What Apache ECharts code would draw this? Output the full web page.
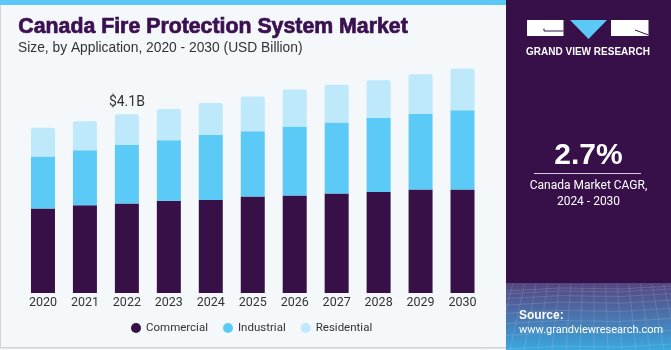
<!DOCTYPE html>
<html>
<head>
<meta charset="utf-8">
<script src="https://cdn.jsdelivr.net/npm/echarts@6/dist/echarts.min.js"></script>
<style>
html,body{margin:0;padding:0;background:#F4F8FB;}
#c{width:671px;height:350px;}
</style>
</head>
<body>
<div id="c"></div>
<script>
const years = ['2020','2021','2022','2023','2024','2025','2026','2027','2028','2029','2030'];
const commercial = [1.94, 2.02, 2.06, 2.12, 2.14, 2.22, 2.24, 2.29, 2.32, 2.38, 2.38];
const industrial = [1.20, 1.26, 1.35, 1.39, 1.49, 1.50, 1.59, 1.63, 1.71, 1.74, 1.82];
const residential = [0.66, 0.67, 0.70, 0.72, 0.74, 0.80, 0.85, 0.87, 0.86, 0.91, 0.96];
const seriesNames = ['Commercial', 'Industrial', 'Residential'];
const labelIndex = 2;
const titleText = 'Canada Fire Protection System Market';
const subtitleText = 'Size, by Application, 2020 - 2030 (USD Billion)';
const cagrText = '2.7%';
const cagrLine1 = 'Canada Market CAGR,';
const cagrLine2 = '2024 - 2030';

const totals = years.map((_, i) => commercial[i] + industrial[i] + residential[i]);

const chart = echarts.init(document.getElementById('c'), null, {renderer: 'canvas'});

// decorative mesh in source panel
const mesh = [];
for (let k = 0; k < 9; k++) {
  const y = 288 + k * k * 0.9 + k * 2;
  mesh.push({type: 'polyline', silent: true, shape: {points: [[506, y + 3], [560, y], [620, y + 1], [671, y - 2]]},
    style: {stroke: 'rgba(255,255,255,0.13)', lineWidth: 1, fill: null}});
}
for (let k = 0; k < 16; k++) {
  const x = 506 + k * 11;
  mesh.push({type: 'line', silent: true, shape: {x1: x + (k - 8) * 0.6, y1: 284, x2: x + (k - 8) * 3, y2: 350},
    style: {stroke: 'rgba(255,255,255,0.12)', lineWidth: 1}});
}

const option = {
  backgroundColor: '#F4F8FB',
  animation: false,
  textStyle: {fontFamily: 'Roboto, sans-serif'},
  grid: {left: 22, width: 461.5, top: 53.75, bottom: 57, containLabel: false},
  xAxis: {
    type: 'category', data: years,
    axisLine: {show: false}, axisTick: {show: false},
    axisLabel: {color: '#333333', fontSize: 12.5, margin: 3, interval: 0, fontFamily: 'Roboto, sans-serif'}
  },
  yAxis: {type: 'value', min: 0, max: 5.5, show: false, splitLine: {show: false}},
  legend: {
    data: seriesNames, left: 126, top: 317, icon: 'circle', itemWidth: 10, itemHeight: 10,
    itemGap: 15, textStyle: {color: '#333333', fontSize: 11.5, fontFamily: 'Roboto, sans-serif'}
  },
  series: [
    {name: seriesNames[0], type: 'bar', stack: 'a', data: commercial, barWidth: 24,
      itemStyle: {color: '#371047'}},
    {name: seriesNames[1], type: 'bar', stack: 'a', data: industrial, barWidth: 24,
      itemStyle: {color: '#5BCAF6'}},
    {name: seriesNames[2], type: 'bar', stack: 'a', data: residential, barWidth: 24,
      itemStyle: {color: '#BDE9FA', borderRadius: [2, 2, 0, 0]},
      label: {show: true, position: 'top', distance: 5, color: '#333333', fontSize: 14,
        fontFamily: 'Roboto, sans-serif',
        formatter: p => p.dataIndex === labelIndex ? '$' + totals[p.dataIndex].toFixed(1) + 'B' : ''}}
  ],
  graphic: [
    {type: 'rect', shape: {x: 0, y: 0, width: 506, height: 5}, style: {fill: '#5BC8F5'}, silent: true},
    {type: 'rect', shape: {x: 0, y: 5, width: 1, height: 343}, style: {fill: '#D0D4D8'}, silent: true},
    {type: 'rect', shape: {x: 0, y: 347, width: 506, height: 1.5}, style: {fill: '#D0D4D8'}, silent: true},
    {type: 'text', left: 18, top: 16.5, silent: true,
      style: {text: titleText, fill: '#3B1050', stroke: '#3B1050', lineWidth: 0.7,
        font: 'bold 21.3px "Liberation Sans", Arial, sans-serif'}},
    {type: 'text', left: 18, top: 41.5, silent: true,
      style: {text: subtitleText, fill: '#333333', font: '13.8px "Liberation Sans", Arial, sans-serif'}},
    // right panel
    {type: 'rect', shape: {x: 506, y: 0, width: 165, height: 350}, style: {fill: '#37104A'}, silent: true},
    {type: 'rect', shape: {x: 506, y: 283, width: 165, height: 67}, silent: true,
      style: {fill: new echarts.graphic.LinearGradient(0, 0, 0, 1, [
        {offset: 0, color: '#56457F'}, {offset: 0.5, color: '#4A74AE'}, {offset: 1, color: '#3AA8DE'}])}},
    ...mesh,
    // logo
    {type: 'rect', shape: {x: 527, y: 20, width: 36.5, height: 16}, style: {fill: '#FFFFFF'}, silent: true},
    {type: 'polyline', shape: {points: [[544, 28.5], [544, 31], [563.5, 31]]}, style: {stroke: '#37104A', lineWidth: 1, fill: null}, silent: true},
    {type: 'polygon', shape: {points: [[570, 20], [607, 20], [588.5, 39]]}, style: {fill: '#5BC8F5'}, silent: true},
    {type: 'rect', shape: {x: 611, y: 20, width: 37.5, height: 16}, style: {fill: '#FFFFFF'}, silent: true},
    {type: 'line', shape: {x1: 635, y1: 30, x2: 648.5, y2: 35}, style: {stroke: '#37104A', lineWidth: 1}, silent: true},
    {type: 'text', x: 588, y: 52, silent: true,
      style: {text: 'GRAND VIEW RESEARCH', fill: '#FFFFFF', align: 'center', verticalAlign: 'middle',
        font: 'bold 10px "Liberation Sans", Arial, sans-serif'}},
    {type: 'text', x: 588.5, y: 156, silent: true,
      style: {text: cagrText, fill: '#FFFFFF', align: 'center', verticalAlign: 'middle',
        font: 'bold 30px "Liberation Sans", Arial, sans-serif'}},
    {type: 'rect', shape: {x: 534, y: 173, width: 107, height: 1}, style: {fill: '#D8CCE0'}, silent: true},
    {type: 'text', x: 588.5, y: 185.5, silent: true,
      style: {text: cagrLine1, fill: '#FFFFFF', align: 'center', verticalAlign: 'middle',
        font: '12px Roboto, sans-serif'}},
    {type: 'text', x: 588.5, y: 201.5, silent: true,
      style: {text: cagrLine2, fill: '#FFFFFF', align: 'center', verticalAlign: 'middle',
        font: '12px Roboto, sans-serif'}},
    {type: 'text', x: 519, y: 316, silent: true,
      style: {text: 'Source:', fill: '#FFFFFF', align: 'left', verticalAlign: 'middle',
        font: 'bold 12px "Liberation Sans", Arial, sans-serif'}},
    {type: 'text', x: 519, y: 330.5, silent: true,
      style: {text: 'www.grandviewresearch.com', fill: '#FFFFFF', align: 'left', verticalAlign: 'middle',
        font: '11px Roboto, sans-serif'}}
  ]
};
chart.setOption(option);
</script>
</body>
</html>
